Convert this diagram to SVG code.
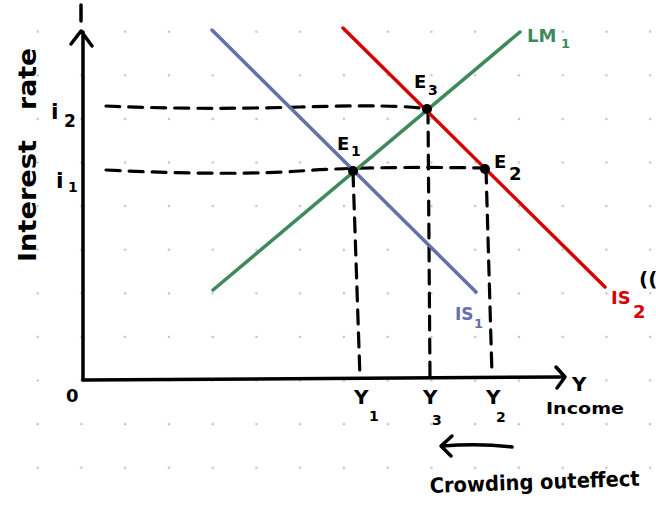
<svg xmlns="http://www.w3.org/2000/svg" width="656" height="508" viewBox="0 0 656 508">
<defs>
<pattern id="grid" x="15.8" y="9.9" width="43.75" height="43.6" patternUnits="userSpaceOnUse">
<circle cx="21.9" cy="21.8" r="1.3" fill="#c4c4c4"/>
</pattern>
</defs>
<style>
.ax{stroke:#000;stroke-width:3.5;fill:none;stroke-linecap:round;stroke-linejoin:round}
.dash{stroke:#000;stroke-width:3.2;fill:none;stroke-dasharray:14 9;stroke-linecap:round}
.crv{stroke-width:3.5;fill:none;stroke-linecap:round}
.t{font-family:"DejaVu Sans","Liberation Sans",sans-serif;font-weight:bold;fill:#000}
.s{font-family:"DejaVu Sans","Liberation Sans",sans-serif;font-weight:bold}
.pt{fill:#000}
</style>
<rect width="656" height="508" fill="#fff"/>
<rect width="656" height="508" fill="url(#grid)"/>

<g id="connectors">
<path class="dash" d="M106,106 Q200,110 300,107 T427,109"/>
<path class="dash" d="M106,170 Q230,176 300,171 T485,168"/>
<path class="dash" d="M353,172 L360,378"/>
<path class="dash" d="M428,109 L430,378"/>
<path class="dash" d="M486,169 L492,375"/>
<line id="is1" class="crv" x1="212" y1="30" x2="476" y2="292" stroke="#6470ab"/>
<line id="is2" class="crv" x1="343" y1="28" x2="605" y2="287" stroke="#d80000"/>
<line id="lm1" class="crv" x1="213" y1="290" x2="520" y2="32" stroke="#3f8a5c"/>
</g>

<g id="axes">
<line class="ax" x1="83" y1="380" x2="83" y2="32"/>
<path class="ax" d="M71,44 L81,31 L92,46"/>
<line class="ax" x1="81" y1="5" x2="81" y2="21"/>
<path class="ax" d="M83,380 L563,377"/>
<path class="ax" d="M556,367 L565,377 L557,388"/>
<text class="t" x="66" y="402" font-size="18">0</text>
<text class="t" x="572" y="391" font-size="20">Y</text>
<text class="t" x="546" y="414" font-size="16" textLength="78" lengthAdjust="spacingAndGlyphs">Income</text>
<text class="t" font-size="25" transform="translate(36,262) rotate(-90)" textLength="122" lengthAdjust="spacingAndGlyphs">Interest</text>
<text class="t" font-size="25" transform="translate(36,110) rotate(-90)" textLength="62" lengthAdjust="spacingAndGlyphs">rate</text>
</g>

<g id="i2"><text class="t" x="51" y="119" font-size="22">i</text><text class="t" x="64" y="127" font-size="17">2</text></g>
<g id="i1"><text class="t" x="56" y="188" font-size="22">i</text><text class="t" x="68" y="192" font-size="14">1</text></g>

<g id="E1"><circle class="pt" cx="353" cy="171" r="5"/><text class="t" x="337" y="150" font-size="18">E</text><text class="t" x="351" y="156" font-size="14">1</text></g>
<g id="E3"><circle class="pt" cx="427" cy="109" r="5"/><text class="t" x="414" y="88" font-size="18">E</text><text class="t" x="428" y="95" font-size="14">3</text></g>
<g id="E2"><circle class="pt" cx="485" cy="169" r="5"/><text class="t" x="494" y="168" font-size="18">E</text><text class="t" x="509" y="180" font-size="18">2</text></g>

<g id="LM1"><text class="s" x="527" y="42" font-size="18" fill="#3f8a5c">LM</text><text class="s" x="561" y="48" font-size="13" fill="#3f8a5c">1</text></g>
<g id="IS1"><text class="s" x="455" y="320" font-size="17" fill="#6470ab">IS</text><text class="s" x="474" y="328" font-size="13" fill="#6470ab">1</text></g>
<g id="IS2"><text class="s" x="611" y="304" font-size="18" fill="#d80000">IS</text><text class="s" x="633" y="318" font-size="18" fill="#d80000">2</text></g>
<text class="t" x="639" y="286" font-size="20">((</text>

<g id="Y1"><text class="t" x="354" y="404" font-size="20">Y</text><text class="t" x="369" y="421" font-size="14">1</text></g>
<g id="Y3"><text class="t" x="423" y="404" font-size="20">Y</text><text class="t" x="432" y="425" font-size="14">3</text></g>
<g id="Y2"><text class="t" x="486" y="404" font-size="20">Y</text><text class="t" x="496" y="422" font-size="14">2</text></g>

<g id="crowding">
<path class="ax" stroke-width="3" d="M512,447 Q480,443 442,446"/>
<path class="ax" stroke-width="3" d="M452,436 L441,446 L451,456"/>
<text class="t" x="430" y="493" font-size="21" textLength="210" lengthAdjust="spacingAndGlyphs" transform="rotate(-2 430 493)">Crowding outeffect</text>
</g>
</svg>
